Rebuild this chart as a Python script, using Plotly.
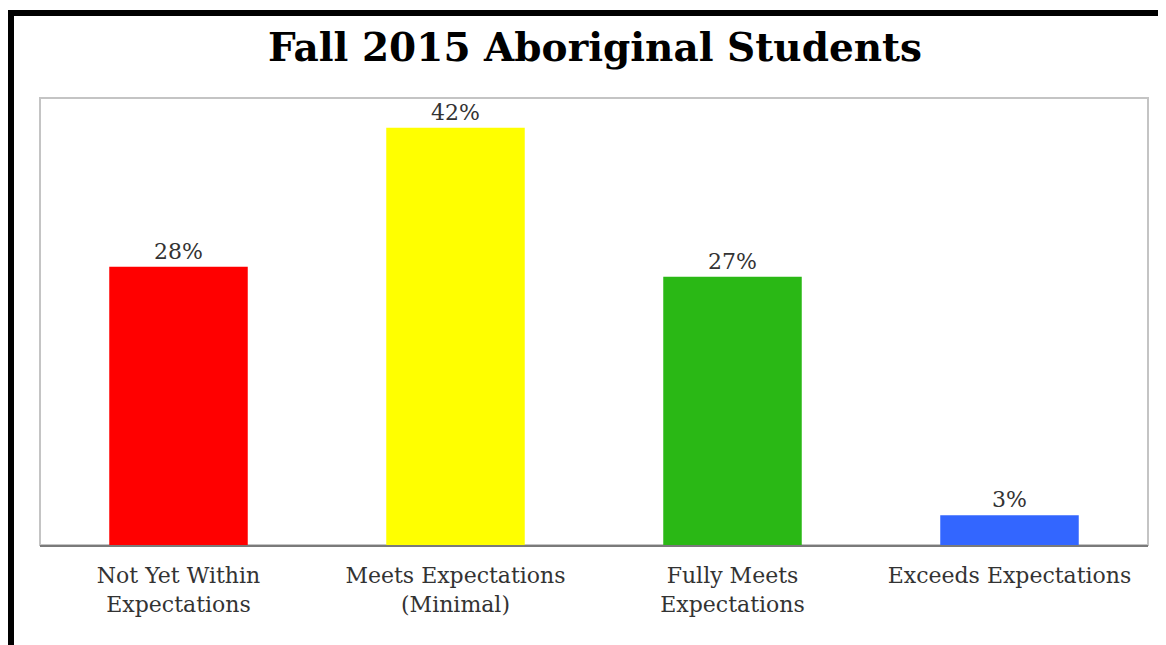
import plotly.graph_objects as go

# Chart data
categories = [
    "Not Yet Within<br>Expectations",
    "Meets Expectations<br>(Minimal)",
    "Fully Meets<br>Expectations",
    "Exceeds Expectations",
]
percent = [28, 42, 27, 3]
bar_colors = ["#FF0000", "#FFFF00", "#2AB815", "#3366FF"]

# page is shown with an 8px body margin, so figure pixels = page pixels - 8
OFF = 8
W, H = 1166 - OFF, 645 - OFF
L, R, T, B = 40 - OFF, 1148 - OFF, 98 - OFF, 545 - OFF
PW, PH = R - L, B - T
FONT = "DejaVu Serif"


def px(x):
    return (x - OFF - L) / PW


def py(y):
    return (B - (y - OFF)) / PH


fig = go.Figure(
    go.Bar(
        x=categories,
        y=percent,
        marker=dict(color=bar_colors, line=dict(width=0)),
        width=0.5,
        text=[f"{v}%" for v in percent],
        textposition="outside",
        textfont=dict(family=FONT, size=22, color="#333333"),
        cliponaxis=False,
        hoverinfo="skip",
    )
)

shapes = [
    # light gray plot frame
    dict(type="rect", xref="paper", yref="paper", x0=0, x1=1, y0=0, y1=1,
         line=dict(color="#C4C4C4", width=2), layer="below"),
    # black page border, top and left
    dict(type="line", xref="paper", yref="paper", x0=px(8), x1=px(1175),
         y0=py(13), y1=py(13), line=dict(color="#000000", width=6)),
    dict(type="line", xref="paper", yref="paper", x0=px(11), x1=px(11),
         y0=py(10), y1=py(660), line=dict(color="#000000", width=6)),
]

fig.update_layout(
    title=dict(
        text="<b>Fall 2015 Aboriginal Students</b>",
        x=(595 - OFF) / W, xanchor="center", y=1 - (47 - OFF) / H, yanchor="middle",
        font=dict(family=FONT, size=39, color="#000000"),
    ),
    width=W,
    height=H,
    margin=dict(l=L, r=W - R, t=T, b=H - B),
    paper_bgcolor="#FFFFFF",
    plot_bgcolor="#FFFFFF",
    bargap=0.5,
    showlegend=False,
    shapes=shapes,
    xaxis=dict(
        showline=True, linecolor="#7A7A7A", linewidth=2,
        ticks="", showgrid=False, ticklabelstandoff=10,
        tickfont=dict(family=FONT, size=22, color="#333333"),
    ),
    yaxis=dict(
        range=[0, 45], showticklabels=False, showgrid=False,
        zeroline=False, ticks="",
    ),
)

fig.write_html("out.html")
